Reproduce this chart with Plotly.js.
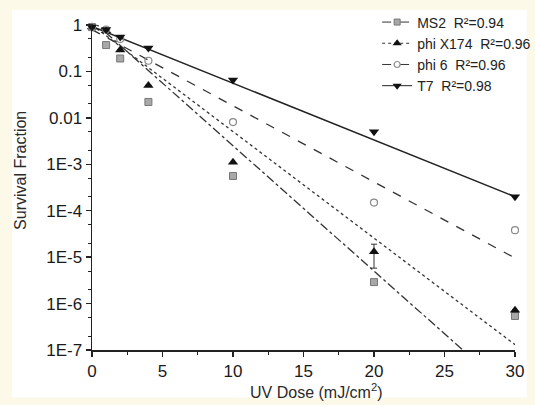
<!DOCTYPE html>
<html>
<head>
<meta charset="utf-8">
<script src="https://cdn.plot.ly/plotly-3.0.1.min.js"></script>
<style>html,body{margin:0;padding:0;background:#fdf9e9;}#chart{width:535px;height:405px;}</style>
</head>
<body>
<div id="chart"></div>
<script>
// ---- data ----
const dose = [0, 1, 2, 4, 10, 20, 30];
const ms2 = [0.9, 0.37, 0.19, 0.022, 5.6e-4, 2.9e-6, 5.4e-7];
const phiX174 = [0.9, 0.75, 0.29, 0.05, 1.1e-3, 1.3e-5, 7.2e-7];
const phiX174ErrPlus = [0, 0, 0, 0, 0, 0.6e-5, 0];
const phiX174ErrMinus = [0, 0, 0, 0, 0, 0.72e-5, 0];
const phi6 = [0.9, 0.8, 0.5, 0.17, 8.1e-3, 1.5e-4, 3.8e-5];
const t7 = [0.9, 0.8, 0.55, 0.32, 0.065, 5e-3, 2e-4];

const seriesNames = ['MS2', 'phi X174', 'phi 6', 'T7'];
const rSquared = ['0.94', '0.96', '0.96', '0.98'];
// log10 fit lines: log10(S) = a + b*dose
const fitIntercept = [0.1, 0.0, -0.1, -0.03];
const fitSlope = [-0.27, -0.2295, -0.164, -0.1223];
const fitDose = [0, 30];

const yTickVals = [1, 0.1, 0.01, 1e-3, 1e-4, 1e-5, 1e-6, 1e-7];
const yTickText = ['1', '0.1', '0.01', '1E-3', '1E-4', '1E-5', '1E-6', '1E-7'];
const xTickVals = [0, 5, 10, 15, 20, 25, 30];
const xTitle = 'UV Dose (mJ/cm<sup>2</sup>)';
const yTitle = 'Survival Fraction';

// ---- styles ----
const values = [ms2, phiX174, phi6, t7];
const symbols = ['square', 'triangle-up', 'circle-open', 'triangle-down'];
const mColors = ['#a8a8a8', '#111', '#888', '#111'];
const mLine = [{color: '#777', width: 1}, {color: '#111', width: 0}, {color: '#888', width: 1.2}, {color: '#111', width: 0}];
const mSizes = [7, 9, 7, 9];
const dashes = ['dashdot', 'dot', 'dash', 'solid'];
const lColors = ['#333', '#333', '#333', '#222'];

const traces = [];
for (let i = 0; i < 4; i++) {
  traces.push({
    x: fitDose,
    y: fitDose.map(d => Math.pow(10, fitIntercept[i] + fitSlope[i] * d)),
    mode: 'lines', showlegend: false, hoverinfo: 'skip',
    line: {color: lColors[i], width: i === 3 ? 1.5 : 1.3, dash: dashes[i]}
  });
}
for (let i = 0; i < 4; i++) {
  const tr = {
    x: dose, y: values[i], mode: 'markers', showlegend: false, cliponaxis: false,
    marker: {symbol: symbols[i], color: mColors[i], size: mSizes[i], line: mLine[i]}
  };
  if (i === 1) {
    tr.error_y = {type: 'data', symmetric: false, array: phiX174ErrPlus, arrayminus: phiX174ErrMinus,
      color: '#333', thickness: 1, width: 3};
  }
  traces.push(tr);
}
for (let i = 0; i < 4; i++) {
  traces.push({
    x: [null], y: [null], mode: 'lines+markers',
    name: seriesNames[i] + '  R\u00b2=' + rSquared[i],
    marker: {symbol: symbols[i], color: mColors[i], size: mSizes[i] - 1, line: mLine[i]},
    line: {color: lColors[i], width: 1, dash: dashes[i]}
  });
}

const layout = {
  width: 535, height: 405,
  margin: {l: 92, r: 20, t: 25, b: 55, autoexpand: false},
  paper_bgcolor: '#fdf9e9',
  plot_bgcolor: 'rgba(0,0,0,0)',
  font: {family: 'Liberation Sans, Arial, sans-serif', color: '#222', size: 13},
  shapes: [{type: 'rect', xref: 'paper', yref: 'paper', layer: 'below',
    x0: -0.189, x1: 1.028, y0: -0.145, y1: 1.046,
    fillcolor: '#ffffff', line: {width: 0}}],
  annotations: [
    {text: xTitle, xref: 'paper', yref: 'paper', x: 0.53, y: -0.126,
     xanchor: 'center', yanchor: 'middle', showarrow: false,
     font: {size: 16, color: '#2a2a2a'}},
    {text: yTitle, xref: 'paper', yref: 'paper', x: -0.168, y: 0.554, textangle: -90,
     xanchor: 'center', yanchor: 'middle', showarrow: false,
     font: {size: 16, color: '#2a2a2a'}}
  ],
  xaxis: {
    range: [0, 30], showgrid: false, zeroline: false,
    showline: true, linecolor: '#222', linewidth: 1.5,
    ticks: 'outside', ticklen: 5, tickwidth: 1.3, tickcolor: '#222',
    tickvals: xTickVals, tickfont: {size: 17, color: '#1a1a1a'},
    minor: {dtick: 2.5, ticks: 'outside', ticklen: 3, tickwidth: 1, tickcolor: '#222'}
  },
  yaxis: {
    type: 'log', range: [-7, 0], showgrid: false, zeroline: false,
    showline: true, linecolor: '#222', linewidth: 1.5,
    ticks: 'outside', ticklen: 5, tickwidth: 1.3, tickcolor: '#222',
    tickvals: yTickVals, ticktext: yTickText, tickfont: {size: 17, color: '#1a1a1a'},
    minor: {ticks: 'outside', ticklen: 3, tickwidth: 1, tickcolor: '#222', showgrid: false}
  },
  legend: {
    x: 1.05, y: 1.057, xanchor: 'right', yanchor: 'top',
    bgcolor: 'rgba(0,0,0,0)', borderwidth: 0,
    font: {size: 14, color: '#222'}, tracegroupgap: 0, itemwidth: 30
  }
};

Plotly.newPlot('chart', traces, layout, {displayModeBar: false, staticPlot: true});
</script>
</body>
</html>
